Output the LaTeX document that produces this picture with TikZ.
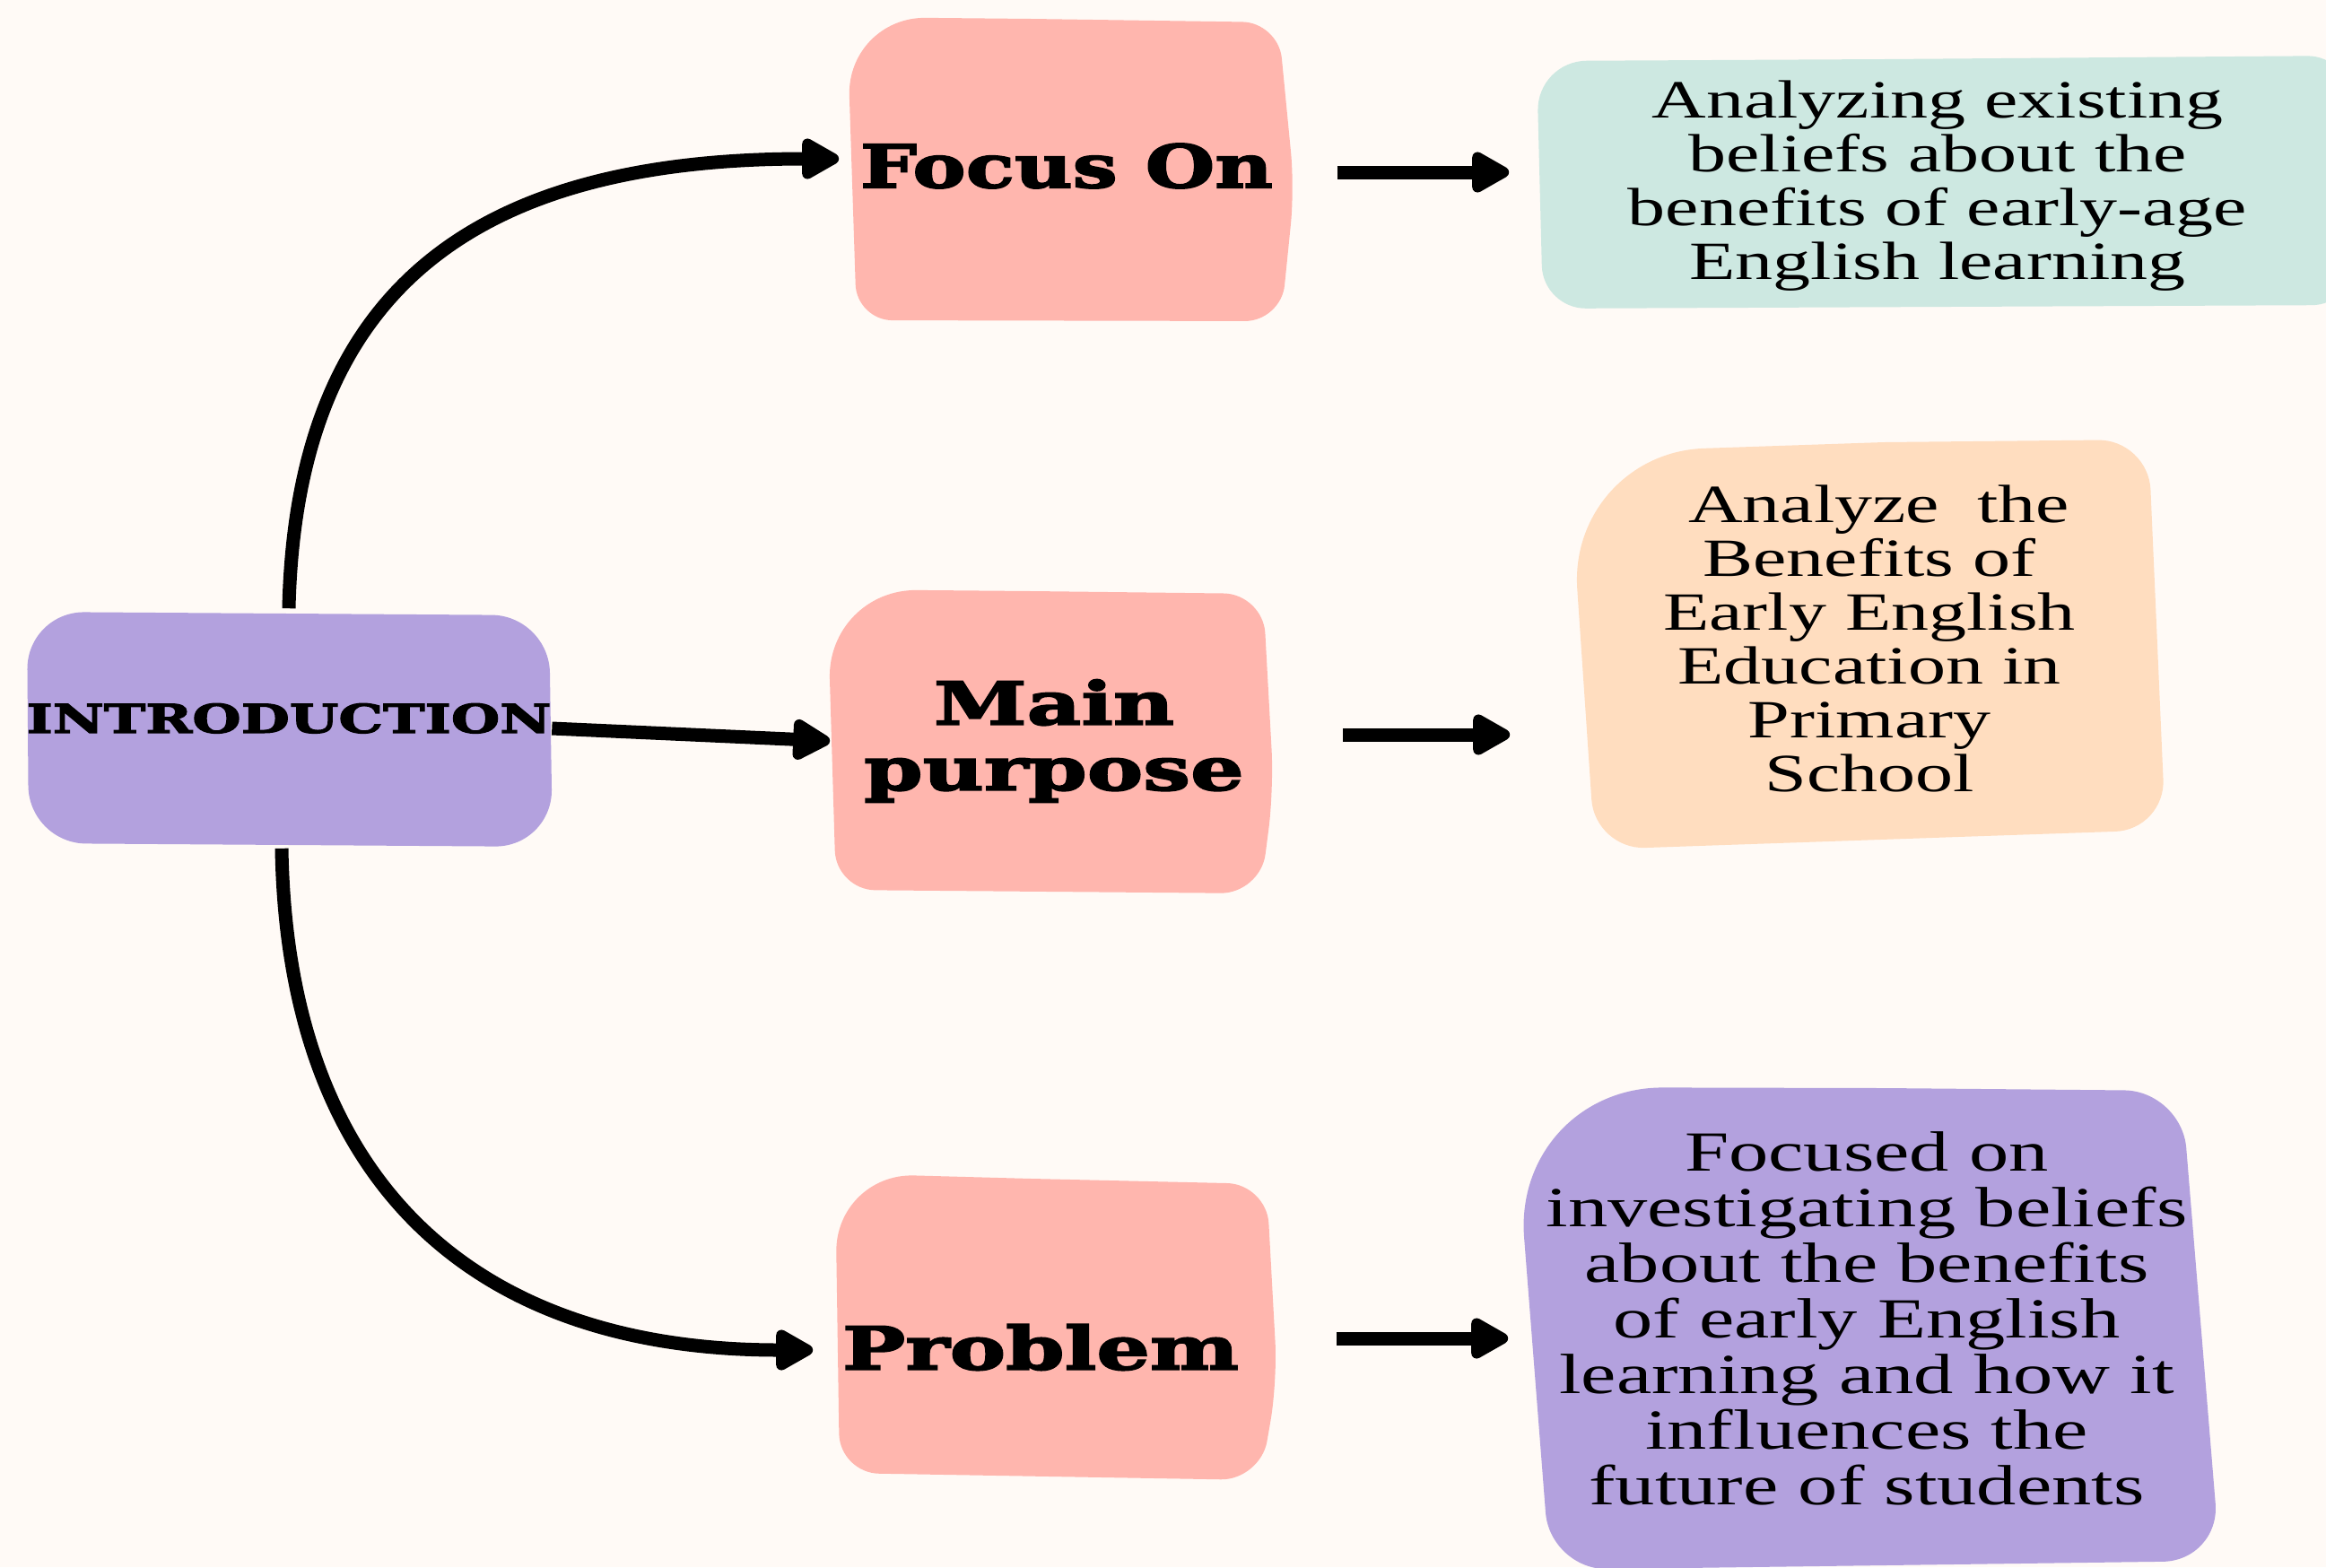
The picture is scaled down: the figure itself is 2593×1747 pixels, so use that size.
\documentclass[tikz,border=0pt]{standalone}
\usepackage{fontspec}
\usetikzlibrary{arrows.meta,calc}
\newfontfamily\bodyfont{Liberation Serif}[FakeStretch=1.4]
\newfontfamily\headfont{DejaVu Serif}[FakeStretch=1.42,FakeBold=3]
\definecolor{bg}{RGB}{255,250,246}
\definecolor{pinkbox}{RGB}{255,182,174}
\definecolor{tealbox}{RGB}{205,232,225}
\definecolor{peachbox}{RGB}{255,221,191}
\definecolor{purplebox}{RGB}{179,161,222}
\begin{document}
\begin{tikzpicture}[x=0.25pt,y=-0.25pt,
  lab/.style={inner sep=0pt, align=center, text=black},
  head/.style={lab, font=\headfont\bfseries\fontsize{16.5}{18.25}\selectfont},
  body/.style={lab, font=\bodyfont\fontsize{15}{15}\selectfont},
  arr/.style={line width=3.75pt, -{Triangle[length=12pt,width=12.5pt,round]}},
  blob/.style={rounded corners=#1}]
\useasboundingbox (0,0) rectangle (2593,1747);
\fill[bg] (0,0) rectangle (2593,1747);
% blobs
\fill[purplebox, blob=16pt] (30,682) -- (612,686) -- (616,944) -- (32,940) -- cycle;
\fill[pinkbox] (1150,21) [rounded corners=10pt] -- (1425,25) -- (1443,210) -- (1428,358) -- (955,357) [rounded corners=22pt] -- (944,19) [rounded corners=0pt] -- cycle;
\fill[pinkbox] (1150,659) [rounded corners=11pt] -- (1408,662) -- (1420,880) -- (1405,996) -- (932,992) [rounded corners=25pt] -- (922,657) [rounded corners=0pt] -- cycle;
\fill[pinkbox] (1150,1314) [rounded corners=11pt] -- (1412,1320) -- (1424,1540) -- (1405,1650) -- (936,1642) [rounded corners=22pt] -- (931,1308) [rounded corners=0pt] -- cycle;
\fill[tealbox] (2100,66) [rounded corners=12pt] -- (2620,62) -- (2625,340) -- (1720,344) [rounded corners=14pt] -- (1713,68) [rounded corners=0pt] -- cycle;
\fill[peachbox] (2100,493) [rounded corners=14pt] -- (2395,490) -- (2414,925) -- (1778,947) [rounded corners=38pt] -- (1748,505) [rounded corners=0pt] -- cycle;
\fill[purplebox] (2100,1213) [rounded corners=16pt] -- (2432,1216) -- (2475,1740) -- (1728,1750) [rounded corners=42pt] -- (1686,1212) [rounded corners=0pt] -- cycle;
% nodes
\node[head, font=\headfont\bfseries\fontsize{11}{12}\selectfont, minimum width=146.25pt, minimum height=66.5pt] (intro) at (322,812) {\raisebox{5.75pt}{INTRODUCTION}};
\node[head, minimum width=124.5pt] (focus) at (1189,185) {\scalebox{0.95}[1]{Focus On}};
\node[head, minimum width=124.5pt] (main) at (1175,826) {Main\\purpose};
\node[head, minimum width=114.5pt] (problem) at (1160,1502) {Problem};
\node[body, minimum width=223.5pt] (teal) at (2160,207) {Analyzing existing\\beliefs about the\\benefits of early-age\\English learning};
\node[body, minimum width=166pt] (peach) at (2084,712) {\ Analyze\ \ the\\Benefits of\\Early English\\Education in\\Primary\\School};
\node[body, font=\bodyfont\fontsize{15.8}{15.5}\selectfont, minimum width=195.5pt] (purple) at (2081,1470) {Focused on\\investigating beliefs\\about the benefits\\of early English\\learning and how it\\influences the\\future of students};
% connectors
\draw[arr] (intro.north) .. controls (330,330) and (520,177) .. ([yshift=2pt,xshift=-1pt]focus.west);
\draw[arr] (intro.east) -- (main.west);
\draw[arr] ([xshift=-2pt]intro.south) .. controls (320,1310) and (520,1505) .. ([yshift=-0.75pt,xshift=-6pt]problem.west);
\draw[arr, shorten <=13pt, shorten >=7.5pt] ([yshift=-1.75pt]focus.east) -- ([yshift=-1.75pt]focus.east -| teal.west);
\draw[arr, shorten <=18pt, shorten >=17pt] ([yshift=1.75pt]main.east) -- ([yshift=1.75pt]main.east -| peach.west);
\draw[arr, shorten <=25pt, shorten >=2pt] ([yshift=2.5pt]problem.east) -- ([yshift=2.5pt]problem.east -| purple.west);
\end{tikzpicture}
\end{document}
